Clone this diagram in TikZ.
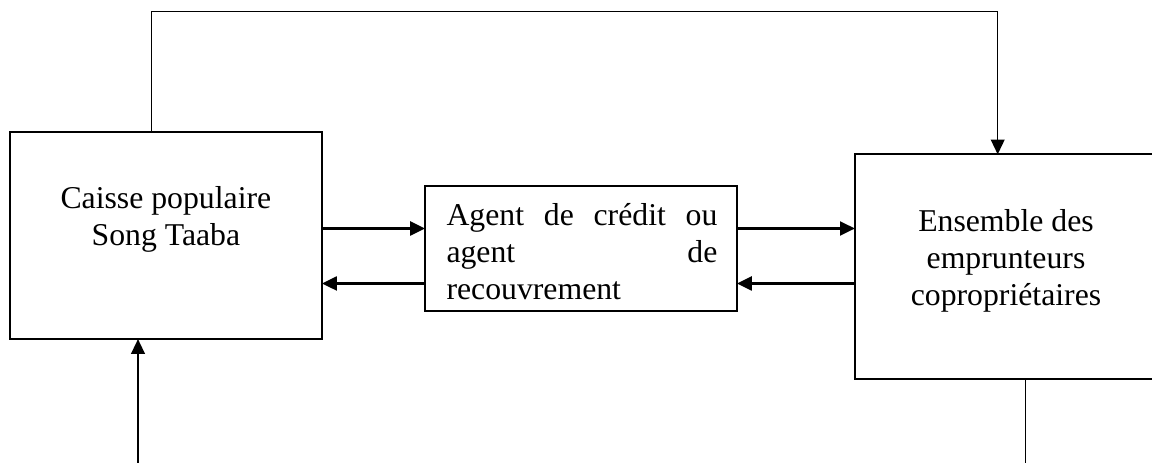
\documentclass[tikz,border=0pt]{standalone}
\usepackage{fontspec}
\setmainfont{Liberation Serif}
\usetikzlibrary{arrows.meta}
\tikzset{box/.style={draw, line width=0.8pt, inner sep=0pt, outer sep=0pt, rectangle},
txt/.style={inner sep=0pt, anchor=north, align=center, font=\fontsize{12}{14}\selectfont},
tip/.style={-{Triangle[length=5.6pt,width=5.2pt]}},
fl/.style={line width=1pt, tip},
ln/.style={line width=0.6pt}}

\begin{document}
\begin{tikzpicture}[x=0.378pt, y=-0.378pt]
\useasboundingbox (0,0) rectangle (1152,463);
% boxes
\node[box, minimum width=118pt, minimum height=78.4pt] (caisse) at (165.9,235.4) {};
\node[box, minimum width=117.9pt, minimum height=47.3pt] (agent) at (581,248.2) {};
\node[box, minimum width=114.2pt, minimum height=85pt] (ens) at (1006,266.8) {};
% texts
\node[txt] (caisseTxt) at (165.9,186.3) {Caisse populaire\\Song Taaba};
\node[txt, anchor=north west, text width=102.4pt, align=left] (agentTxt) at (446,203.3)
 {Agent\hfill de\hfill crédit\hfill ou\\agent\hfill de\\recouvrement};
\node[txt] (ensTxt) at (1006,209) {Ensemble des\\emprunteurs\\copropriétaires};
% rows and corners
\coordinate (r1) at (0,228.5);
\coordinate (r2) at (0,283.5);
\coordinate (c1) at (151.7,11.7);
\coordinate (c2) at (997.7,11.7);
\coordinate (b1) at (138,470);
\coordinate (b2) at (1025.7,470);
\draw[fl] (caisse.east |- r1) -- (agent.west |- r1);
\draw[fl] (agent.west |- r2) -- (caisse.east |- r2);
\draw[fl] (agent.east |- r1) -- (ens.west |- r1);
\draw[fl] (ens.west |- r2) -- (agent.east |- r2);
\draw[ln, tip] (caisse.north -| c1) -- (c1) -- (c2) -- (ens.north -| c2);
\draw[ln, tip] (b1) -- (caisse.south -| b1);
\draw[ln] (ens.south -| b2) -- (b2);
\end{tikzpicture}
\end{document}
